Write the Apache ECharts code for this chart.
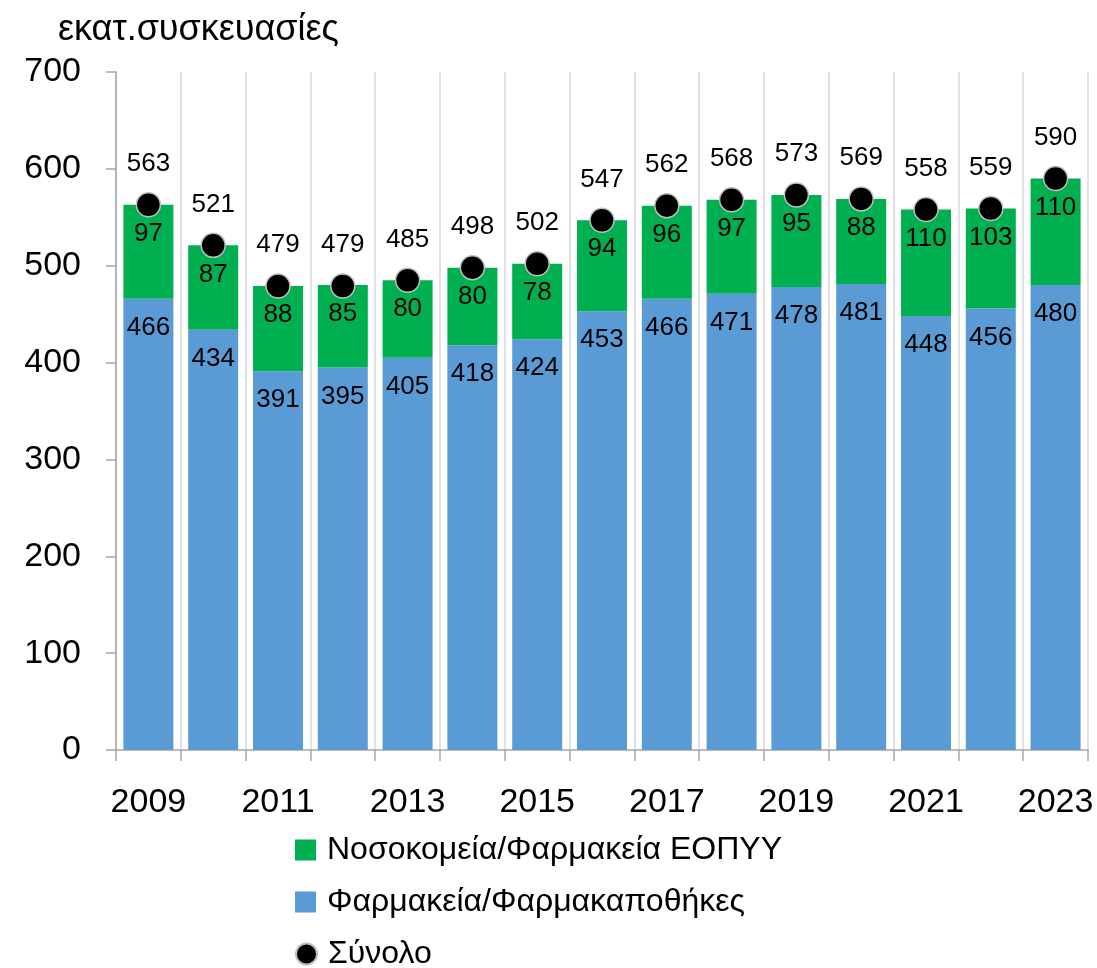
<!DOCTYPE html>
<html>
<head>
<meta charset="utf-8">
<script src="https://cdn.jsdelivr.net/npm/echarts@6/dist/echarts.min.js"></script>
<style>
  html, body { margin: 0; padding: 0; background: #fff; }
  #chart { width: 1097px; height: 968px; }
</style>
</head>
<body>
<div id="chart"></div>
<script>
// Annual volumes (million packs) by channel
const years = ['2009','2010','2011','2012','2013','2014','2015','2016','2017','2018','2019','2020','2021','2022','2023'];
const hospitals = [97, 87, 88, 85, 80, 80, 78, 94, 96, 97, 95, 88, 110, 103, 110];
const pharmacies = [466, 434, 391, 395, 405, 418, 424, 453, 466, 471, 478, 481, 448, 456, 480];
const totals = [563, 521, 479, 479, 485, 498, 502, 547, 562, 568, 573, 569, 558, 559, 590];
const yTicks = [0, 100, 200, 300, 400, 500, 600, 700];

const nameHosp = 'Νοσοκομεία/Φαρμακεία ΕΟΠΥΥ';
const namePharm = 'Φαρμακεία/Φαρμακαποθήκες';
const nameTotal = 'Σύνολο';
const FONT = '"Liberation Sans", Arial, sans-serif';

// one legend block per row so the list stays in a single column
function legendRow(name, icon, top) {
  return {
    left: 290, top: top,
    itemWidth: 21, itemHeight: 21, itemGap: 10,
    textStyle: { fontFamily: FONT, fontSize: 32, color: '#000', padding: [0, 0, 0, 6] },
    data: [{ name: name, icon: icon }]
  };
}

const chart = echarts.init(document.getElementById('chart'));
chart.setOption({
  animation: false,
  textStyle: { fontFamily: FONT, color: '#000' },
  title: {
    text: 'εκατ.συσκευασίες',
    left: 53, top: 7,
    textStyle: { fontFamily: FONT, fontSize: 36, fontWeight: 'normal', color: '#000' }
  },
  grid: { left: 116, right: 9, top: 72, bottom: 218, containLabel: false },
  legend: [
    legendRow(nameHosp, 'rect', 829),
    legendRow(namePharm, 'rect', 881),
    legendRow(nameTotal, 'circle', 933)
  ],
  xAxis: {
    type: 'category',
    data: years,
    boundaryGap: true,
    axisLine: { lineStyle: { color: '#a6a6a6', width: 1.5 } },
    axisTick: { show: true, interval: 0, length: 11, lineStyle: { color: '#a6a6a6', width: 1.5 } },
    axisLabel: { interval: 1, margin: 36, fontSize: 34, color: '#000', fontFamily: FONT },
    splitLine: { show: true, interval: 0, lineStyle: { color: '#d9d9d9', width: 1.5 } }
  },
  yAxis: {
    type: 'value',
    min: yTicks[0], max: yTicks[yTicks.length - 1], interval: 100,
    axisLine: { show: true, lineStyle: { color: '#a6a6a6', width: 1.5 } },
    axisTick: { show: true, length: 10, lineStyle: { color: '#a6a6a6', width: 1.5 } },
    axisLabel: { margin: 35, fontSize: 34, color: '#000', fontFamily: FONT },
    splitLine: { show: false }
  },
  series: [
    {
      name: namePharm,
      type: 'bar',
      stack: 'total',
      data: pharmacies,
      barWidth: 50,
      itemStyle: { color: '#5b9bd5' },
      label: { show: true, position: 'insideTop', distance: 16, fontSize: 26, color: '#000', fontFamily: FONT }
    },
    {
      name: nameHosp,
      type: 'bar',
      stack: 'total',
      data: hospitals,
      barWidth: 50,
      itemStyle: { color: '#00b050' },
      label: { show: true, position: 'insideTop', distance: 16, fontSize: 26, color: '#000', fontFamily: FONT }
    },
    {
      name: nameTotal,
      type: 'scatter',
      data: totals,
      symbol: 'circle',
      symbolSize: 24,
      z: 5,
      itemStyle: { color: '#000', borderColor: '#bfbfbf', borderWidth: 1.5, opacity: 1 },
      emphasis: { disabled: true },
      label: { show: true, position: 'top', distance: 15, fontSize: 26, color: '#000', fontFamily: FONT }
    }
  ]
});
</script>
</body>
</html>
